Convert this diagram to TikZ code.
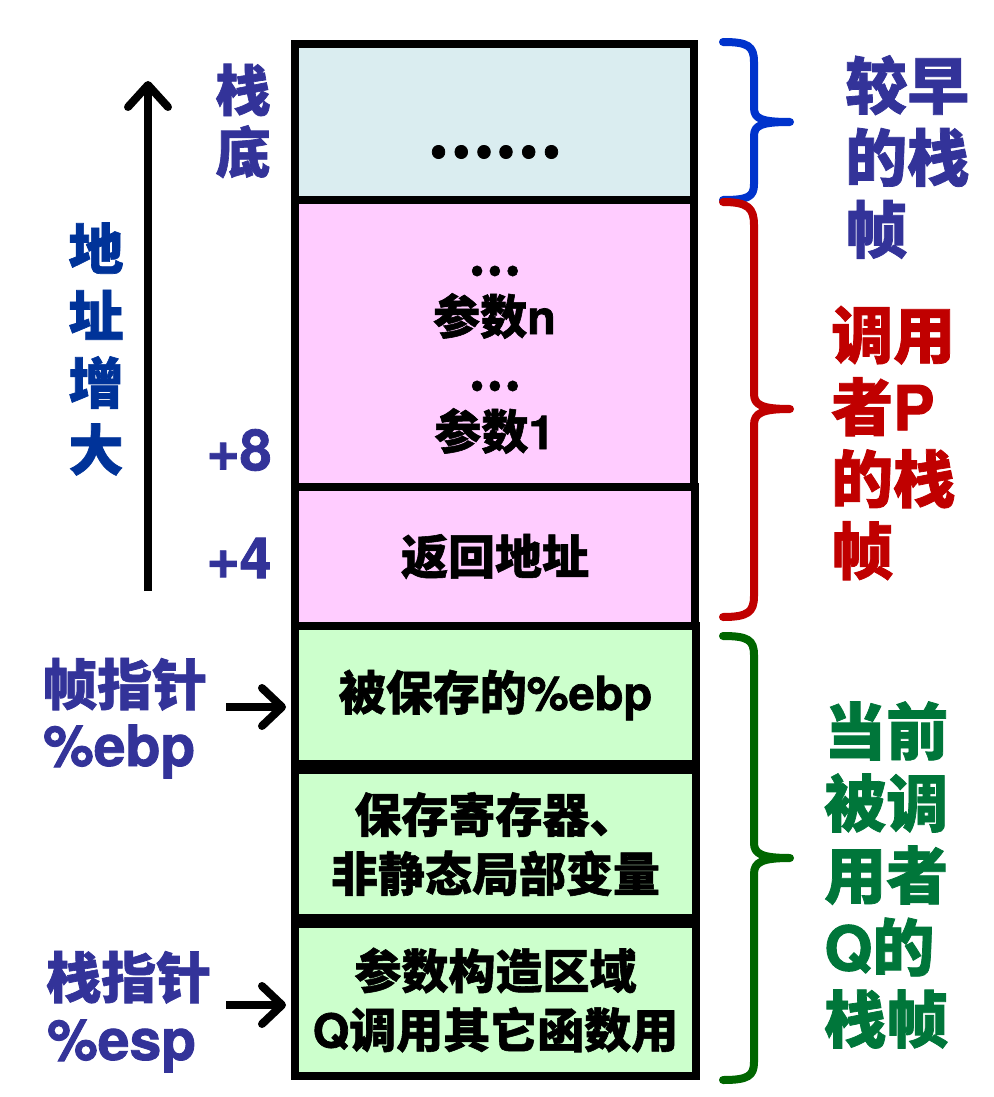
\documentclass[tikz,border=0pt]{standalone}
\usepackage{fontspec}
\setmainfont{Noto Sans CJK SC}[BoldFeatures={FakeBold=1.2}]
\newfontfamily\latf{texgyreheros-bold.otf}[FakeBold=1.5]
\usetikzlibrary{arrows.meta}
\definecolor{tealfill}{RGB}{218,237,240}
\definecolor{pinkfill}{RGB}{255,204,255}
\definecolor{greenfill}{RGB}{204,255,204}
\definecolor{slateblue}{RGB}{51,51,153}
\definecolor{addrblue}{RGB}{0,51,153}
\definecolor{darkred}{RGB}{192,0,0}
\definecolor{qgreen}{RGB}{0,118,58}
\definecolor{bracegreen}{RGB}{0,102,0}
\definecolor{braceblue}{RGB}{0,51,204}
\newcommand\lat[1]{{\latf #1}}
\tikzset{
  cell/.style={draw=black, line width=8pt, inner sep=0pt, outer sep=0pt,
    font=\fontsize{47}{59}\selectfont\bfseries, align=center},
  celltext/.style={inner sep=0pt, font=\fontsize{47}{59}\selectfont\bfseries},
  sidelabel/.style={inner sep=0pt, font=\fontsize{55}{62}\selectfont\bfseries, text=slateblue},
  biglabel/.style={inner sep=0pt, align=left, font=\fontsize{62}{72}\selectfont\bfseries},
  brace/.style={line width=8pt, line cap=round, line join=round},
  ptr/.style={line width=8pt, -{Straight Barb[length=20pt,width=38pt,round]}}
}
\begin{document}
\begin{tikzpicture}[x=1pt,y=-1pt]
\useasboundingbox (0,0) rectangle (993,1097);

% stack cells
\node[cell, fill=tealfill, minimum width=399pt, minimum height=156pt] (frame0) at (494.5,122) {};
\node[cell, fill=pinkfill, minimum width=399pt, minimum height=287pt] (frame1) at (494.5,343.5) {};
\node[cell, fill=pinkfill, minimum width=400pt, minimum height=139pt] (frame2) at (495,556.5) {返回地址};
\node[cell, fill=greenfill, minimum width=401pt, minimum height=138pt] (gbox1) at (495.5,695) {被保存的\lat{\%ebp}};
\node[cell, fill=greenfill, minimum width=401pt, minimum height=148pt] (gbox2) at (495.5,844) {保存寄存器、\\非静态局部变量};
\node[cell, fill=greenfill, minimum width=401pt, minimum height=152pt] (gbox3) at (495.5,1000) {参数构造区域\\\lat{Q}调用其它函数用};

% texts inside cells
\node[inner sep=0pt, font=\fontsize{60}{66}\selectfont\bfseries] (dots6) at (494.5,152) {……};
\node[celltext] (dotsA) at (494.5,271) {…};
\node[celltext] (argn) at (494.5,316) {参数\lat{n}};
\node[celltext] (dotsB) at (494.5,386) {…};
\node[celltext] (arg1) at (494.5,431) {参数\lat{1}};

% left side labels
\node[sidelabel, align=center] (stackbottom) at (243,121) {栈\\底};
\node[inner sep=0pt, align=center, font=\fontsize{55}{67}\selectfont\bfseries, text=addrblue] (addrup) at (96,349) {地\\址\\增\\大};
\node[inner sep=0pt, font=\fontsize{57}{60}\selectfont, text=slateblue] (plus8) at (239,450) {\lat{+8}};
\node[inner sep=0pt, font=\fontsize{57}{60}\selectfont, text=slateblue] (plus4) at (239,558) {\lat{+4}};

\node[sidelabel, anchor=base west] (fpname) at (42,705) {帧指针};
\node[inner sep=0pt, anchor=base west, font=\fontsize{57}{60}\selectfont, text=slateblue] (fpreg) at (43,766) {\lat{\%ebp}};
\node[sidelabel, anchor=base west] (spname) at (46,998) {栈指针};
\node[inner sep=0pt, anchor=base west, font=\fontsize{57}{60}\selectfont, text=slateblue] (spreg) at (47,1060) {\lat{\%esp}};

% address growth arrow
\coordinate (upbot) at (148,591);
\coordinate (uptop) at (148,81);
\draw[line width=8pt, -{Straight Barb[length=22pt,width=40pt,round]}] (upbot) -- (uptop);

% pointer arrows
\coordinate (fpstart) at (226,707);
\coordinate (spstart) at (226,1005);
\draw[ptr] (fpstart) -- ([xshift=-9pt]gbox1.west |- fpstart);
\draw[ptr] (spstart) -- ([xshift=-9pt]gbox3.west |- spstart);

% braces
\coordinate (b1t) at (723,42);
\coordinate (b1m) at (790,122);
\coordinate (b1b) at (723,200);
\draw[brace, draw=braceblue] (b1t) .. controls (748,42) and (754,46) .. (754,62) -- (754,108)
  .. controls (754,119) and (762,122) .. (b1m)
  .. controls (762,122) and (754,125) .. (754,136) -- (754,184)
  .. controls (754,197) and (748,200) .. (b1b);

\coordinate (b2t) at (723,202);
\coordinate (b2m) at (790,409);
\coordinate (b2b) at (723,617);
\draw[brace, draw=darkred] (b2t) .. controls (748,202) and (754,208) .. (754,225) -- (754,394)
  .. controls (754,405) and (762,409) .. (b2m)
  .. controls (762,409) and (754,413) .. (754,425) -- (754,596)
  .. controls (754,612) and (748,617) .. (b2b);

\coordinate (b3t) at (723,636);
\coordinate (b3m) at (790,858);
\coordinate (b3b) at (723,1080);
\draw[brace, draw=bracegreen] (b3t) .. controls (748,636) and (754,640) .. (754,655) -- (754,843)
  .. controls (754,854) and (762,858) .. (b3m)
  .. controls (762,858) and (754,862) .. (754,874) -- (754,1062)
  .. controls (754,1076) and (748,1080) .. (b3b);

% right labels
\node[biglabel, anchor=west, text=slateblue] (earlier) at (845,157) {较早\\的栈\\帧};
\node[biglabel, anchor=west, text=darkred] (callerP) at (831,443) {调用\\者\lat{P}\\的栈\\帧};
\node[biglabel, anchor=west, text=qgreen] (calleeQ) at (824,875) {当前\\被调\\用者\\\lat{Q}的\\栈帧};
\end{tikzpicture}
\end{document}
